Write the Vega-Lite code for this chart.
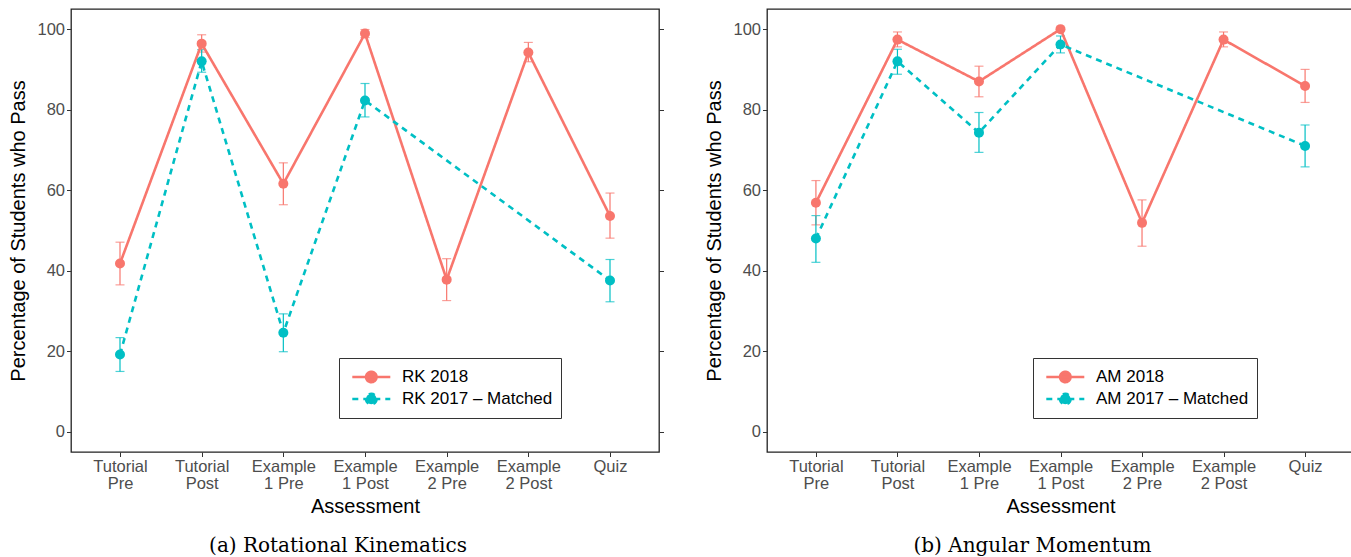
{
  "$schema": "https://vega.github.io/schema/vega-lite/v6.json",
  "autosize": {"type": "pad"},
  "padding": {"left": 8, "top": 8, "right": 0, "bottom": 0},
  "background": "white",
  "spacing": 39,
  "datasets": {
    "rk": [
      {"assessment": "Tutorial Pre", "idx": 0, "series": "RK 2018", "pct": 41.8, "lo": 36.5, "hi": 47.1},
      {"assessment": "Tutorial Post", "idx": 1, "series": "RK 2018", "pct": 96.4, "lo": 94.3, "hi": 98.6},
      {"assessment": "Example 1 Pre", "idx": 2, "series": "RK 2018", "pct": 61.6, "lo": 56.4, "hi": 66.8},
      {"assessment": "Example 1 Post", "idx": 3, "series": "RK 2018", "pct": 98.9, "lo": 97.9, "hi": 99.9},
      {"assessment": "Example 2 Pre", "idx": 4, "series": "RK 2018", "pct": 37.8, "lo": 32.6, "hi": 43.0},
      {"assessment": "Example 2 Post", "idx": 5, "series": "RK 2018", "pct": 94.2, "lo": 91.9, "hi": 96.7},
      {"assessment": "Quiz", "idx": 6, "series": "RK 2018", "pct": 53.6, "lo": 48.1, "hi": 59.3},
      {"assessment": "Tutorial Pre", "idx": 0, "series": "RK 2017 – Matched", "pct": 19.2, "lo": 15.0, "hi": 23.4},
      {"assessment": "Tutorial Post", "idx": 1, "series": "RK 2017 – Matched", "pct": 92.0, "lo": 89.3, "hi": 94.9},
      {"assessment": "Example 1 Pre", "idx": 2, "series": "RK 2017 – Matched", "pct": 24.6, "lo": 19.9, "hi": 29.3},
      {"assessment": "Example 1 Post", "idx": 3, "series": "RK 2017 – Matched", "pct": 82.3, "lo": 78.2, "hi": 86.5},
      {"assessment": "Quiz", "idx": 6, "series": "RK 2017 – Matched", "pct": 37.6, "lo": 32.3, "hi": 42.8}
    ],
    "am": [
      {"assessment": "Tutorial Pre", "idx": 0, "series": "AM 2018", "pct": 56.9, "lo": 51.4, "hi": 62.4},
      {"assessment": "Tutorial Post", "idx": 1, "series": "AM 2018", "pct": 97.4, "lo": 95.6, "hi": 99.3},
      {"assessment": "Example 1 Pre", "idx": 2, "series": "AM 2018", "pct": 87.0, "lo": 83.2, "hi": 90.8},
      {"assessment": "Example 1 Post", "idx": 3, "series": "AM 2018", "pct": 100.0, "lo": 100.0, "hi": 100.0},
      {"assessment": "Example 2 Pre", "idx": 4, "series": "AM 2018", "pct": 51.9, "lo": 46.1, "hi": 57.6},
      {"assessment": "Example 2 Post", "idx": 5, "series": "AM 2018", "pct": 97.4, "lo": 95.6, "hi": 99.3},
      {"assessment": "Quiz", "idx": 6, "series": "AM 2018", "pct": 85.9, "lo": 81.8, "hi": 90.0},
      {"assessment": "Tutorial Pre", "idx": 0, "series": "AM 2017 – Matched", "pct": 48.0, "lo": 42.1, "hi": 53.7},
      {"assessment": "Tutorial Post", "idx": 1, "series": "AM 2017 – Matched", "pct": 92.0, "lo": 88.8, "hi": 95.0},
      {"assessment": "Example 1 Pre", "idx": 2, "series": "AM 2017 – Matched", "pct": 74.3, "lo": 69.4, "hi": 79.3},
      {"assessment": "Example 1 Post", "idx": 3, "series": "AM 2017 – Matched", "pct": 96.2, "lo": 94.1, "hi": 98.3},
      {"assessment": "Quiz", "idx": 6, "series": "AM 2017 – Matched", "pct": 71.0, "lo": 65.8, "hi": 76.2}
    ]
  },
  "hconcat": [
    {
      "width": 588,
      "height": 443,
      "title": {"text": "(a) Rotational Kinematics", "orient": "bottom", "anchor": "middle", "dx": -27, "offset": 20, "font": "DejaVu Serif", "fontSize": 20, "fontWeight": "normal", "color": "black"},
      "data": {"name": "rk"},
      "resolve": {"axis": {"y": "independent"}},
      "layer": [
        {
          "mark": {"type": "errorbar", "ticks": true, "size": 9, "thickness": 1.2},
          "encoding": {
            "x": {"field": "assessment", "type": "nominal", "title": "Assessment", "sort": null, "scale": {"type": "point", "padding": 0.6, "domain": ["Tutorial Pre", "Tutorial Post", "Example 1 Pre", "Example 1 Post", "Example 2 Pre", "Example 2 Post", "Quiz"]}},
            "y": {"field": "lo", "type": "quantitative", "scale": {"domain": [-5, 105], "nice": false, "zero": false}, "axis": null},
            "y2": {"field": "hi"},
            "color": {"field": "series", "type": "nominal", "scale": {"domain": ["RK 2018", "RK 2017 – Matched"], "range": ["#F8766D", "#00BFC4"]}, "legend": {"title": null, "legendX": 268, "encode": {"symbols": {"update": {"fill": {"signal": "datum.value == 'RK 2018' ? '#F8766D' : '#00BFC4'"}, "fillOpacity": {"value": 1}}}}}}
          }
        },
        {
          "mark": {"type": "line", "strokeWidth": 2.6},
          "encoding": {
            "x": {"field": "assessment", "type": "nominal", "title": "Assessment", "sort": null, "scale": {"type": "point", "padding": 0.6, "domain": ["Tutorial Pre", "Tutorial Post", "Example 1 Pre", "Example 1 Post", "Example 2 Pre", "Example 2 Post", "Quiz"]}},
            "y": {"field": "pct", "type": "quantitative", "scale": {"domain": [-5, 105], "nice": false, "zero": false}, "axis": {"orient": "right", "labels": false, "title": null, "values": [0, 20, 40, 60, 80, 100]}},
            "order": {"field": "idx", "type": "quantitative"},
            "color": {"field": "series", "type": "nominal", "scale": {"domain": ["RK 2018", "RK 2017 – Matched"], "range": ["#F8766D", "#00BFC4"]}, "legend": {"title": null, "legendX": 268, "encode": {"symbols": {"update": {"fill": {"signal": "datum.value == 'RK 2018' ? '#F8766D' : '#00BFC4'"}, "fillOpacity": {"value": 1}}}}}},
            "strokeDash": {"field": "series", "type": "nominal", "scale": {"domain": ["RK 2018", "RK 2017 – Matched"], "range": [[1, 0], [6, 5]]}, "legend": {"title": null, "legendX": 268, "encode": {"symbols": {"update": {"fill": {"signal": "datum.value == 'RK 2018' ? '#F8766D' : '#00BFC4'"}, "fillOpacity": {"value": 1}}}}}}
          }
        },
        {
          "mark": {"type": "circle", "size": 100, "opacity": 1},
          "encoding": {
            "x": {"field": "assessment", "type": "nominal", "title": "Assessment", "sort": null, "scale": {"type": "point", "padding": 0.6, "domain": ["Tutorial Pre", "Tutorial Post", "Example 1 Pre", "Example 1 Post", "Example 2 Pre", "Example 2 Post", "Quiz"]}},
            "y": {"field": "pct", "type": "quantitative", "scale": {"domain": [-5, 105], "nice": false, "zero": false}, "axis": {"orient": "left", "title": "Percentage of Students who Pass", "values": [0, 20, 40, 60, 80, 100]}},
            "color": {"field": "series", "type": "nominal", "scale": {"domain": ["RK 2018", "RK 2017 – Matched"], "range": ["#F8766D", "#00BFC4"]}, "legend": {"title": null, "legendX": 268, "encode": {"symbols": {"update": {"fill": {"signal": "datum.value == 'RK 2018' ? '#F8766D' : '#00BFC4'"}, "fillOpacity": {"value": 1}}}}}}
          }
        }
      ]
    },
    {
      "width": 587,
      "height": 443,
      "title": {"text": "(b) Angular Momentum", "orient": "bottom", "anchor": "middle", "dx": -28, "offset": 20, "font": "DejaVu Serif", "fontSize": 20, "fontWeight": "normal", "color": "black"},
      "data": {"name": "am"},
      "resolve": {"axis": {"y": "independent"}},
      "layer": [
        {
          "mark": {"type": "errorbar", "ticks": true, "size": 9, "thickness": 1.2},
          "encoding": {
            "x": {"field": "assessment", "type": "nominal", "title": "Assessment", "sort": null, "scale": {"type": "point", "padding": 0.6, "domain": ["Tutorial Pre", "Tutorial Post", "Example 1 Pre", "Example 1 Post", "Example 2 Pre", "Example 2 Post", "Quiz"]}},
            "y": {"field": "lo", "type": "quantitative", "scale": {"domain": [-5, 105], "nice": false, "zero": false}, "axis": null},
            "y2": {"field": "hi"},
            "color": {"field": "series", "type": "nominal", "scale": {"domain": ["AM 2018", "AM 2017 – Matched"], "range": ["#F8766D", "#00BFC4"]}, "legend": {"title": null, "legendX": 266, "encode": {"symbols": {"update": {"fill": {"signal": "datum.value == 'AM 2018' ? '#F8766D' : '#00BFC4'"}, "fillOpacity": {"value": 1}}}}}}
          }
        },
        {
          "mark": {"type": "line", "strokeWidth": 2.6},
          "encoding": {
            "x": {"field": "assessment", "type": "nominal", "title": "Assessment", "sort": null, "scale": {"type": "point", "padding": 0.6, "domain": ["Tutorial Pre", "Tutorial Post", "Example 1 Pre", "Example 1 Post", "Example 2 Pre", "Example 2 Post", "Quiz"]}},
            "y": {"field": "pct", "type": "quantitative", "scale": {"domain": [-5, 105], "nice": false, "zero": false}, "axis": {"orient": "right", "labels": false, "title": null, "values": [0, 20, 40, 60, 80, 100]}},
            "order": {"field": "idx", "type": "quantitative"},
            "color": {"field": "series", "type": "nominal", "scale": {"domain": ["AM 2018", "AM 2017 – Matched"], "range": ["#F8766D", "#00BFC4"]}, "legend": {"title": null, "legendX": 266, "encode": {"symbols": {"update": {"fill": {"signal": "datum.value == 'AM 2018' ? '#F8766D' : '#00BFC4'"}, "fillOpacity": {"value": 1}}}}}},
            "strokeDash": {"field": "series", "type": "nominal", "scale": {"domain": ["AM 2018", "AM 2017 – Matched"], "range": [[1, 0], [6, 5]]}, "legend": {"title": null, "legendX": 266, "encode": {"symbols": {"update": {"fill": {"signal": "datum.value == 'AM 2018' ? '#F8766D' : '#00BFC4'"}, "fillOpacity": {"value": 1}}}}}}
          }
        },
        {
          "mark": {"type": "circle", "size": 100, "opacity": 1},
          "encoding": {
            "x": {"field": "assessment", "type": "nominal", "title": "Assessment", "sort": null, "scale": {"type": "point", "padding": 0.6, "domain": ["Tutorial Pre", "Tutorial Post", "Example 1 Pre", "Example 1 Post", "Example 2 Pre", "Example 2 Post", "Quiz"]}},
            "y": {"field": "pct", "type": "quantitative", "scale": {"domain": [-5, 105], "nice": false, "zero": false}, "axis": {"orient": "left", "title": "Percentage of Students who Pass", "values": [0, 20, 40, 60, 80, 100]}},
            "color": {"field": "series", "type": "nominal", "scale": {"domain": ["AM 2018", "AM 2017 – Matched"], "range": ["#F8766D", "#00BFC4"]}, "legend": {"title": null, "legendX": 266, "encode": {"symbols": {"update": {"fill": {"signal": "datum.value == 'AM 2018' ? '#F8766D' : '#00BFC4'"}, "fillOpacity": {"value": 1}}}}}}
          }
        }
      ]
    }
  ],
  "resolve": {"scale": {"color": "independent", "strokeDash": "independent"}, "legend": {"color": "independent", "strokeDash": "independent"}},
  "config": {
    "view": {"stroke": "#222", "strokeWidth": 1.3},
    "axis": {
      "grid": false,
      "domain": false,
      "tickColor": "#333",
      "tickSize": 4.5,
      "tickWidth": 1,
      "labelFont": "Liberation Sans",
      "labelFontSize": 16.5,
      "labelColor": "#4D4D4D",
      "labelPadding": 2,
      "titleFont": "Liberation Sans",
      "titleFontSize": 20,
      "titleFontWeight": "normal",
      "titleColor": "black"
    },
    "axisX": {
      "labelAngle": 0,
      "labelLineHeight": 17,
      "labelExpr": "indexof(datum.label, ' ') < 0 ? datum.label : [substring(datum.label, 0, indexof(datum.label, ' ')), substring(datum.label, indexof(datum.label, ' ') + 1)]",
      "titlePadding": 4
    },
    "axisY": {"titlePadding": 8},
    "legend": {
      "orient": "none",
      "legendX": 268,
      "legendY": 349,
      "strokeColor": "#333",
      "padding": 8,
      "labelFont": "Liberation Sans",
      "labelFontSize": 17,
      "labelColor": "black",
      "labelOffset": 33,
      "rowPadding": 0,
      "symbolType": "M-0.6,0L3.4,0M1.95,0A0.55,0.55,0,1,1,0.85,0A0.55,0.55,0,1,1,1.95,0Z",
      "symbolSize": 361,
      "symbolStrokeWidth": 2.6
    },
    "title": {"fontWeight": "normal"}
  }
}
